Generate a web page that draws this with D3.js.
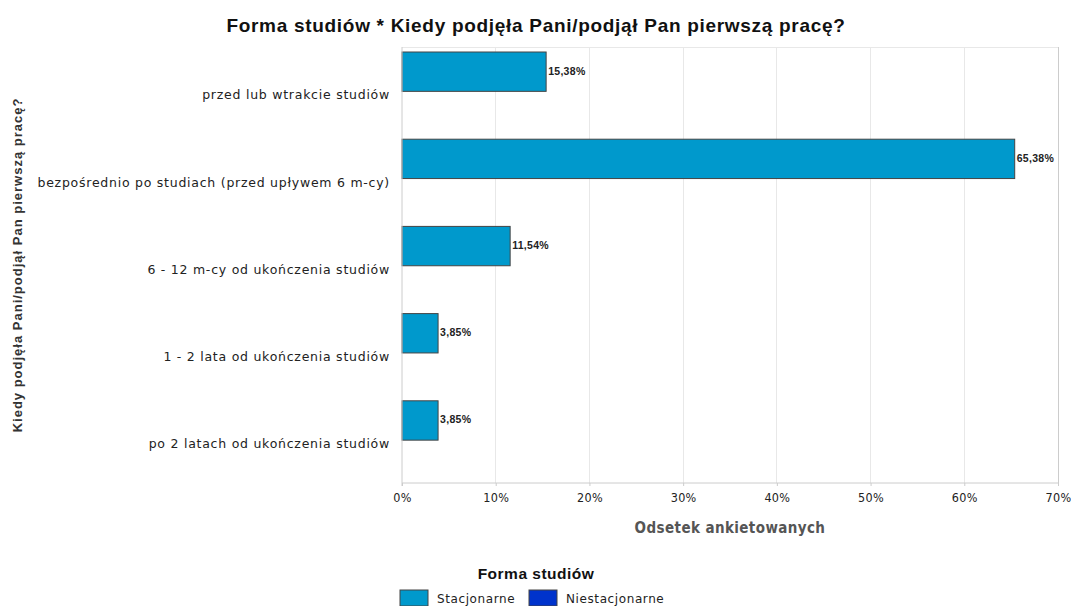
<!DOCTYPE html>
<html><head><meta charset="utf-8">
<script src="https://cdn.jsdelivr.net/npm/d3@7"></script>
<style>body{margin:0;background:#fff;}svg{display:block;}</style>
</head><body>
<script>
const categories = ["przed lub wtrakcie studiów","bezpośrednio po studiach (przed upływem 6 m-cy)","6 - 12 m-cy od ukończenia studiów","1 - 2 lata od ukończenia studiów","po 2 latach od ukończenia studiów"];
const series = ["Stacjonarne","Niestacjonarne"];
const stacjonarne = [15.38, 65.38, 11.54, 3.85, 3.85];
const niestacjonarne = [0, 0, 0, 0, 0];
const xTicks = [0,10,20,30,40,50,60,70];
const colors = ["#0099cc","#0033cc"];

const W=1071,H=606;
const svg=d3.select("body").append("svg").attr("width",W).attr("height",H);
const m={l:402,r:1058,t:47,b:483};
const x=d3.scaleLinear().domain([0,70]).range([m.l,m.r]);
const y0=d3.scaleBand().domain(categories).range([m.t,m.b]);
const y1=d3.scaleBand().domain(series).range([5,y0.bandwidth()-3.5]);
const values=[stacjonarne,niestacjonarne];

// title
svg.append("text").attr("x",536).attr("y",32).attr("text-anchor","middle")
  .attr("font-family","Liberation Sans, Arial").attr("font-weight","bold").attr("font-size",19).attr("letter-spacing",0.7).attr("fill","#111")
  .text("Forma studiów * Kiedy podjęła Pani/podjął Pan pierwszą pracę?");

// grid
svg.append("g").selectAll("line").data(xTicks.slice(1)).join("line")
  .attr("x1",d=>x(d)).attr("x2",d=>x(d)).attr("y1",m.t).attr("y2",m.b)
  .attr("stroke","#e8e8e8").attr("stroke-width",1).attr("shape-rendering","crispEdges");
svg.append("line").attr("x1",m.l).attr("x2",m.r).attr("y1",m.t).attr("y2",m.t).attr("stroke","#e8e8e8").attr("shape-rendering","crispEdges");
svg.append("line").attr("x1",m.r).attr("x2",m.r).attr("y1",m.t).attr("y2",m.b+3).attr("stroke","#cccccc").attr("shape-rendering","crispEdges");

// bars
series.forEach((s,si)=>{
  svg.append("g").selectAll("rect").data(categories).join("rect")
    .attr("x",x(0)).attr("y",(c)=>y0(c)+y1(s))
    .attr("width",(c,i)=>x(values[si][i])-x(0)).attr("height",y1.bandwidth())
    .attr("fill",colors[si]).attr("stroke","#444").attr("stroke-width",1)
    .style("display",(c,i)=>values[si][i]>0?null:"none");
});
// value labels
svg.append("g").selectAll("text").data(categories).join("text")
  .attr("x",(c,i)=>x(stacjonarne[i])+2).attr("y",(c)=>y0(c)+y1("Stacjonarne")+y1.bandwidth()/2+3)
  .attr("font-family","Liberation Sans, Arial").attr("font-weight","bold").attr("font-size",10.5).attr("letter-spacing",0.3).attr("fill","#222")
  .text((c,i)=>d3.format(".2f")(stacjonarne[i]).replace(".",",")+"%");

// x axis
const xa=svg.append("g").attr("transform",`translate(0,${m.b})`)
  .call(d3.axisBottom(x).tickValues(xTicks).tickSize(3).tickFormat(d=>d+"%"));
xa.select(".domain").attr("stroke","#cccccc").attr("d",`M${m.l},0H${m.r}`);
xa.selectAll(".tick line").attr("stroke","#cccccc");
xa.selectAll(".tick text").attr("font-family","DejaVu Sans Condensed, DejaVu Sans").attr("font-size",12.5).attr("letter-spacing",0.3).attr("fill","#222").attr("dy","1.05em");

// y axis
const ya=svg.append("g").attr("transform",`translate(${m.l},0)`)
  .call(d3.axisLeft(y0).tickSize(0).tickPadding(12));
ya.select(".domain").attr("stroke","#cccccc").attr("d",`M0,${m.t}V${m.b+3}`);
ya.selectAll(".tick text").attr("font-family","DejaVu Sans").attr("font-size",12.5).attr("letter-spacing",0.75).attr("fill","#222").attr("dy","0.7em");

// axis titles
svg.append("text").attr("x",(m.l+m.r)/2).attr("y",533).attr("text-anchor","middle")
  .attr("font-family","DejaVu Sans Condensed, DejaVu Sans").attr("font-weight","bold").attr("font-size",15).attr("letter-spacing",0.4).attr("fill","#555")
  .text("Odsetek ankietowanych");
svg.append("text").attr("transform",`translate(22,${(m.t+m.b)/2}) rotate(-90)`).attr("text-anchor","middle")
  .attr("font-family","Liberation Sans, Arial").attr("font-weight","bold").attr("font-size",13).attr("letter-spacing",1).attr("fill","#333")
  .text("Kiedy podjęła Pani/podjął Pan pierwszą pracę?");

// legend
svg.append("text").attr("x",536).attr("y",579).attr("text-anchor","middle")
  .attr("font-family","Liberation Sans, Arial").attr("font-weight","bold").attr("font-size",15.5).attr("letter-spacing",0.5).attr("fill","#111")
  .text("Forma studiów");
const lx=[400,529];
const lg=svg.append("g").selectAll("g").data(series).join("g").attr("transform",(d,i)=>`translate(${lx[i]},590)`);
lg.append("rect").attr("width",28).attr("height",16).attr("fill",(d,i)=>colors[i]).attr("stroke","#444");
lg.append("text").attr("x",37).attr("y",13).attr("font-family","DejaVu Sans").attr("font-size",12).attr("letter-spacing",0.6).attr("fill","#222").text(d=>d);
</script>
</body></html>
